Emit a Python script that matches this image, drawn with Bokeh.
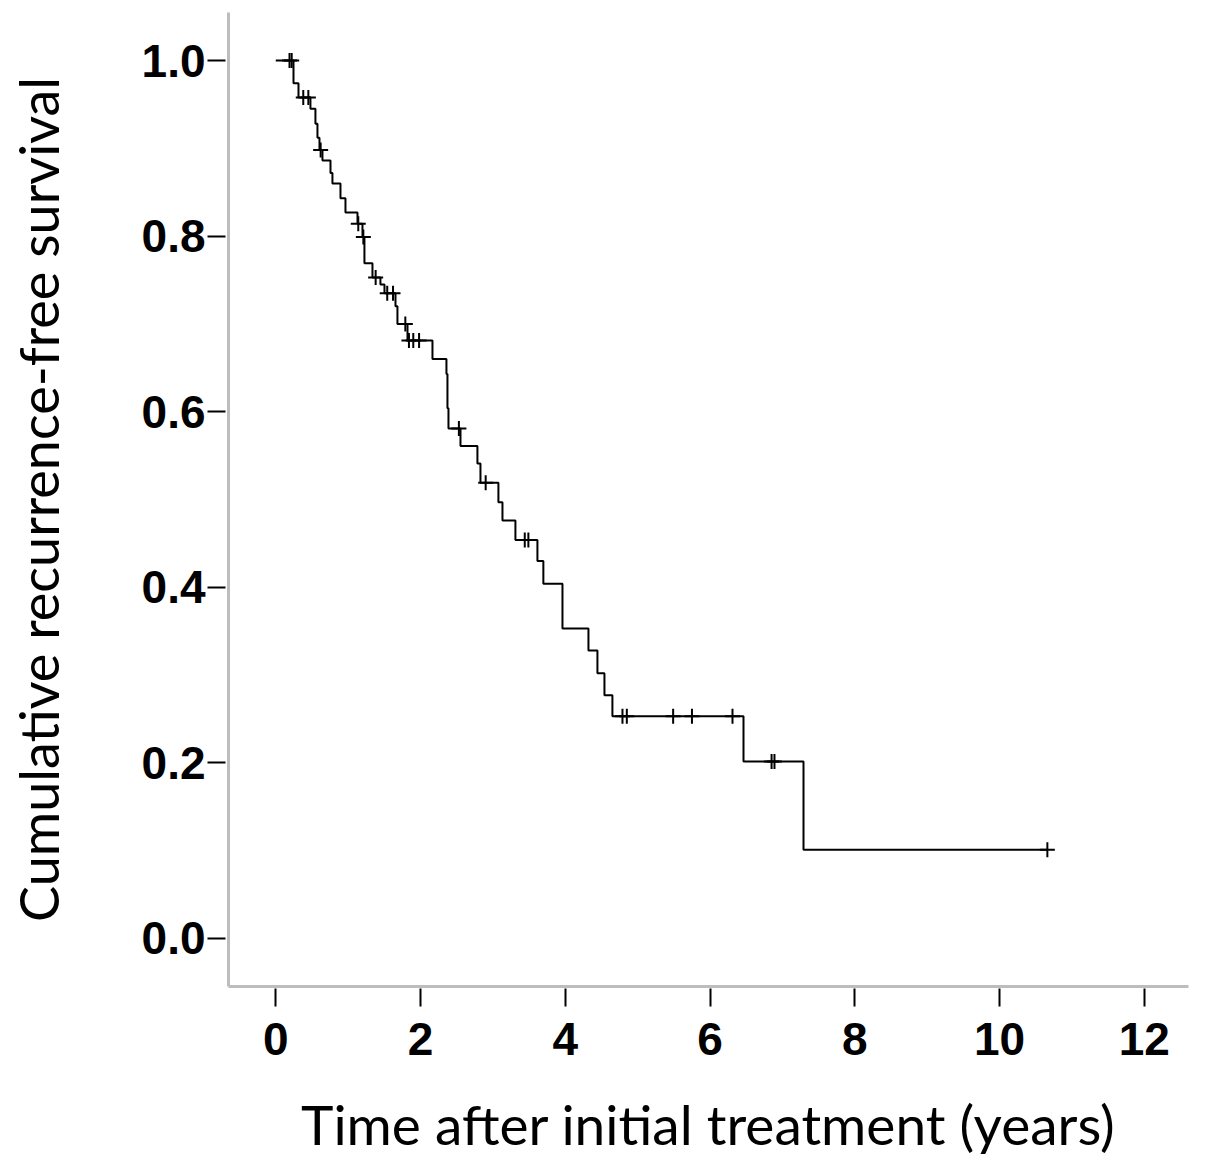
from bokeh.plotting import figure
from bokeh.models import Range1d, FixedTicker, CustomJSTickFormatter
from bokeh.embed import file_html
from bokeh.resources import INLINE

# Kaplan-Meier events (time in years, survival after event)
event_times = [0.0, 0.245, 0.314, 0.479, 0.548, 0.576, 0.604, 0.645, 0.756, 0.783,
               0.894, 0.963, 1.129, 1.198, 1.225, 1.336, 1.446, 1.502, 1.654, 1.681,
               1.820, 2.165, 2.358, 2.372, 2.386, 2.552, 2.786, 2.828, 3.076, 3.132,
               3.311, 3.615, 3.697, 3.961, 4.320, 4.444, 4.541, 4.651, 6.462, 7.291,
               10.66]
event_surv = [1.0, 0.974, 0.958, 0.945, 0.928, 0.912, 0.898, 0.886, 0.872, 0.860,
              0.843, 0.827, 0.814, 0.799, 0.769, 0.753, 0.745, 0.735, 0.720, 0.700,
              0.681, 0.660, 0.643, 0.604, 0.581, 0.561, 0.541, 0.519, 0.497, 0.476,
              0.454, 0.430, 0.404, 0.353, 0.328, 0.302, 0.277, 0.253, 0.2016, 0.101,
              0.101]

# Censored observations
censor_times = [0.19, 0.22, 0.38, 0.45, 0.62, 1.14, 1.21, 1.38, 1.54, 1.62, 1.79,
                1.84, 1.90, 1.98, 2.53, 2.90, 3.44, 3.49, 4.79, 4.85, 5.49, 5.75,
                6.31, 6.85, 6.89, 10.66]
censor_surv = [1.0, 1.0, 0.958, 0.958, 0.898, 0.814, 0.799, 0.753, 0.735, 0.735, 0.700,
               0.681, 0.681, 0.681, 0.581, 0.519, 0.454, 0.454, 0.253, 0.253, 0.253, 0.253,
               0.253, 0.2016, 0.2016, 0.101]

x_ticks = [0, 2, 4, 6, 8, 10, 12]
y_ticks = [0.0, 0.2, 0.4, 0.6, 0.8, 1.0]
x_title = "Time after initial treatment (years)"
y_title = "Cumulative recurrence-free survival"

p = figure(output_backend="svg", toolbar_location=None,
           x_range=Range1d(-0.653, 12.61), y_range=Range1d(-0.0547, 1.0547),
           min_border_left=228, min_border_right=17, min_border_top=12,
           min_border_bottom=180)
p.frame_width = 960
p.frame_height = 974

p.step(event_times, event_surv, mode="after", line_color="black", line_width=2)
p.scatter(censor_times, censor_surv, marker="cross", size=15, line_color="black",
          line_width=2)

p.grid.visible = False
p.outline_line_color = None
p.background_fill_color = "white"
p.border_fill_color = "white"

for ax in (p.xaxis[0], p.yaxis[0]):
    ax.axis_line_color = "#bdbdbd"
    ax.axis_line_width = 3
    ax.major_tick_line_color = "black"
    ax.major_tick_line_width = 2
    ax.minor_tick_line_color = None
    ax.major_label_text_font = "Liberation Sans"
    ax.major_label_text_font_size = "46px"
    ax.major_label_text_font_style = "bold"
    ax.major_label_text_color = "black"
    ax.axis_label_text_font = "Lato"
    ax.axis_label_text_font_style = "normal"
    ax.axis_label_text_color = "black"

p.xaxis.ticker = FixedTicker(ticks=x_ticks)
p.yaxis.ticker = FixedTicker(ticks=y_ticks)
p.yaxis.formatter = CustomJSTickFormatter(code="return tick.toFixed(1);")

p.xaxis.major_tick_in = -2
p.xaxis.major_tick_out = 20
p.xaxis.major_label_standoff = 16
p.xaxis.axis_label = x_title
p.xaxis.axis_label_text_font_size = "55px"
p.xaxis.axis_label_standoff = 33

p.yaxis.major_tick_in = -3
p.yaxis.major_tick_out = 21
p.yaxis.major_label_standoff = 2
p.yaxis.axis_label = y_title
p.yaxis.axis_label_text_font_size = "54px"
p.yaxis.axis_label_standoff = 68

open("out.html", "w").write(file_html(p, INLINE))
